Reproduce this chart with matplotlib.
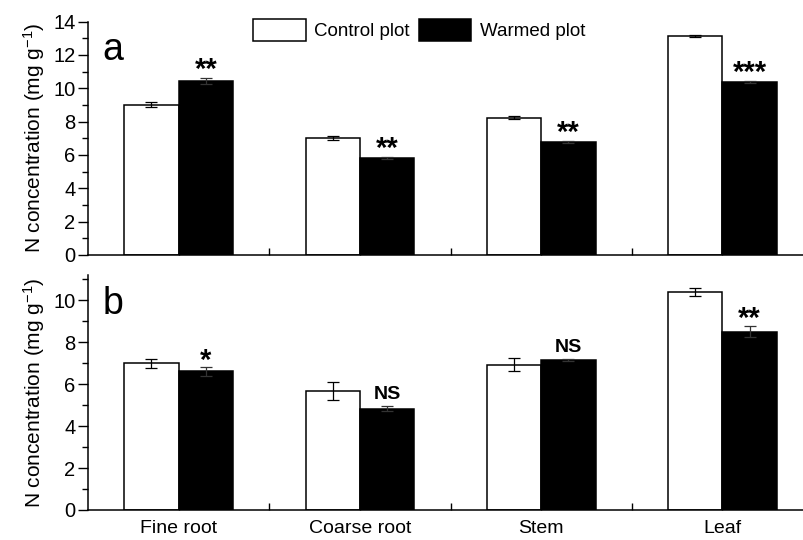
import numpy as np
import matplotlib.pyplot as plt
from matplotlib.ticker import MultipleLocator, FixedLocator

plt.rcParams['font.family'] = ['Liberation Sans', 'DejaVu Sans']
plt.rcParams['mathtext.fontset'] = 'custom'
plt.rcParams['mathtext.rm'] = 'Liberation Sans'
plt.rcParams['mathtext.it'] = 'Liberation Sans'

categories = ["Fine root", "Coarse root", "Stem", "Leaf"]

# panel a
ctrl_a = [9.0, 7.02, 8.24, 13.12]
ctrl_a_err = [0.15, 0.13, 0.1, 0.07]
warm_a = [10.43, 5.81, 6.77, 10.38]
warm_a_err = [0.17, 0.04, 0.07, 0.05]
sig_a = ["**", "**", "**", "***"]

# panel b
ctrl_b = [6.99, 5.67, 6.93, 10.39]
ctrl_b_err = [0.21, 0.43, 0.3, 0.2]
warm_b = [6.61, 4.83, 7.13, 8.5]
warm_b_err = [0.2, 0.12, 0.05, 0.27]
sig_b = ["*", "NS", "NS", "**"]

x = np.arange(len(categories))
w = 0.3

fig = plt.figure(figsize=(8.04, 5.4), dpi=100)
ax1 = fig.add_axes([0.1095, 0.528, 0.8905, 0.432])
ax2 = fig.add_axes([0.1095, 0.0556, 0.8905, 0.4351])


def panel(ax, ctrl, ctrl_err, warm, warm_err, sig, ymax, letter):
    ax.bar(x - w / 2, ctrl, w, color="white", edgecolor="black", linewidth=1.1,
           label="Control plot", zorder=2)
    ax.bar(x + w / 2, warm, w, color="black", edgecolor="black", linewidth=1.1,
           label="Warmed plot", zorder=2)
    ax.errorbar(x - w / 2, ctrl, yerr=ctrl_err, fmt="none", ecolor="black",
                elinewidth=0.9, capsize=4.5, capthick=0.9, zorder=3)
    ax.errorbar(x + w / 2, warm, yerr=warm_err, fmt="none", ecolor="#333333",
                elinewidth=0.9, capsize=4.5, capthick=0.9, zorder=3)
    for xi, v, e, s in zip(x, warm, warm_err, sig):
        if s == "NS":
            ax.text(xi + w / 2, v + e + 0.15, s, ha="center", va="bottom",
                    fontsize=14, fontweight="bold")
        else:
            ax.text(xi + w / 2, v + e - 0.35, s, ha="center", va="bottom",
                    fontsize=21, fontweight="bold")
    ax.set_xlim(-0.5, 3.45)
    ax.set_ylim(0, ymax)
    ax.spines["top"].set_visible(False)
    ax.spines["right"].set_visible(False)
    ax.spines["left"].set_linewidth(1.1)
    ax.spines["bottom"].set_linewidth(1.1)
    ax.yaxis.set_major_locator(MultipleLocator(2))
    ax.yaxis.set_minor_locator(MultipleLocator(1))
    ax.tick_params(axis="y", which="major", direction="out", length=7, width=1,
                   labelsize=14.5, pad=2)
    ax.tick_params(axis="y", which="minor", direction="out", length=4.5, width=1)
    ax.set_xticks(x)
    ax.xaxis.set_minor_locator(FixedLocator([0.5, 1.5, 2.5]))
    ax.tick_params(axis="x", which="both", direction="in", length=5, width=1,
                   labelsize=14, pad=7)
    ax.set_ylabel(r"N concentration (mg g$^{-1}$)", fontsize=15)
    ax.text(0.02, 0.955, letter, transform=ax.transAxes, fontsize=27,
            va="top", ha="left")


panel(ax1, ctrl_a, ctrl_a_err, warm_a, warm_a_err, sig_a, 14, "a")
panel(ax2, ctrl_b, ctrl_b_err, warm_b, warm_b_err, sig_b, 11.2, "b")

ax1.set_xticklabels([])
ax2.set_xticklabels(categories)
ax1.yaxis.set_label_coords(-0.058, 0.5)
ax2.yaxis.set_label_coords(-0.058, 0.5)

ax1.legend(loc="upper left", bbox_to_anchor=(0.22, 1.045), ncol=2, frameon=False,
           fontsize=13.5, handlelength=2.8, handleheight=1.45, columnspacing=0.5,
           handletextpad=0.45, borderaxespad=0)

fig.savefig("out.png", dpi=100)
